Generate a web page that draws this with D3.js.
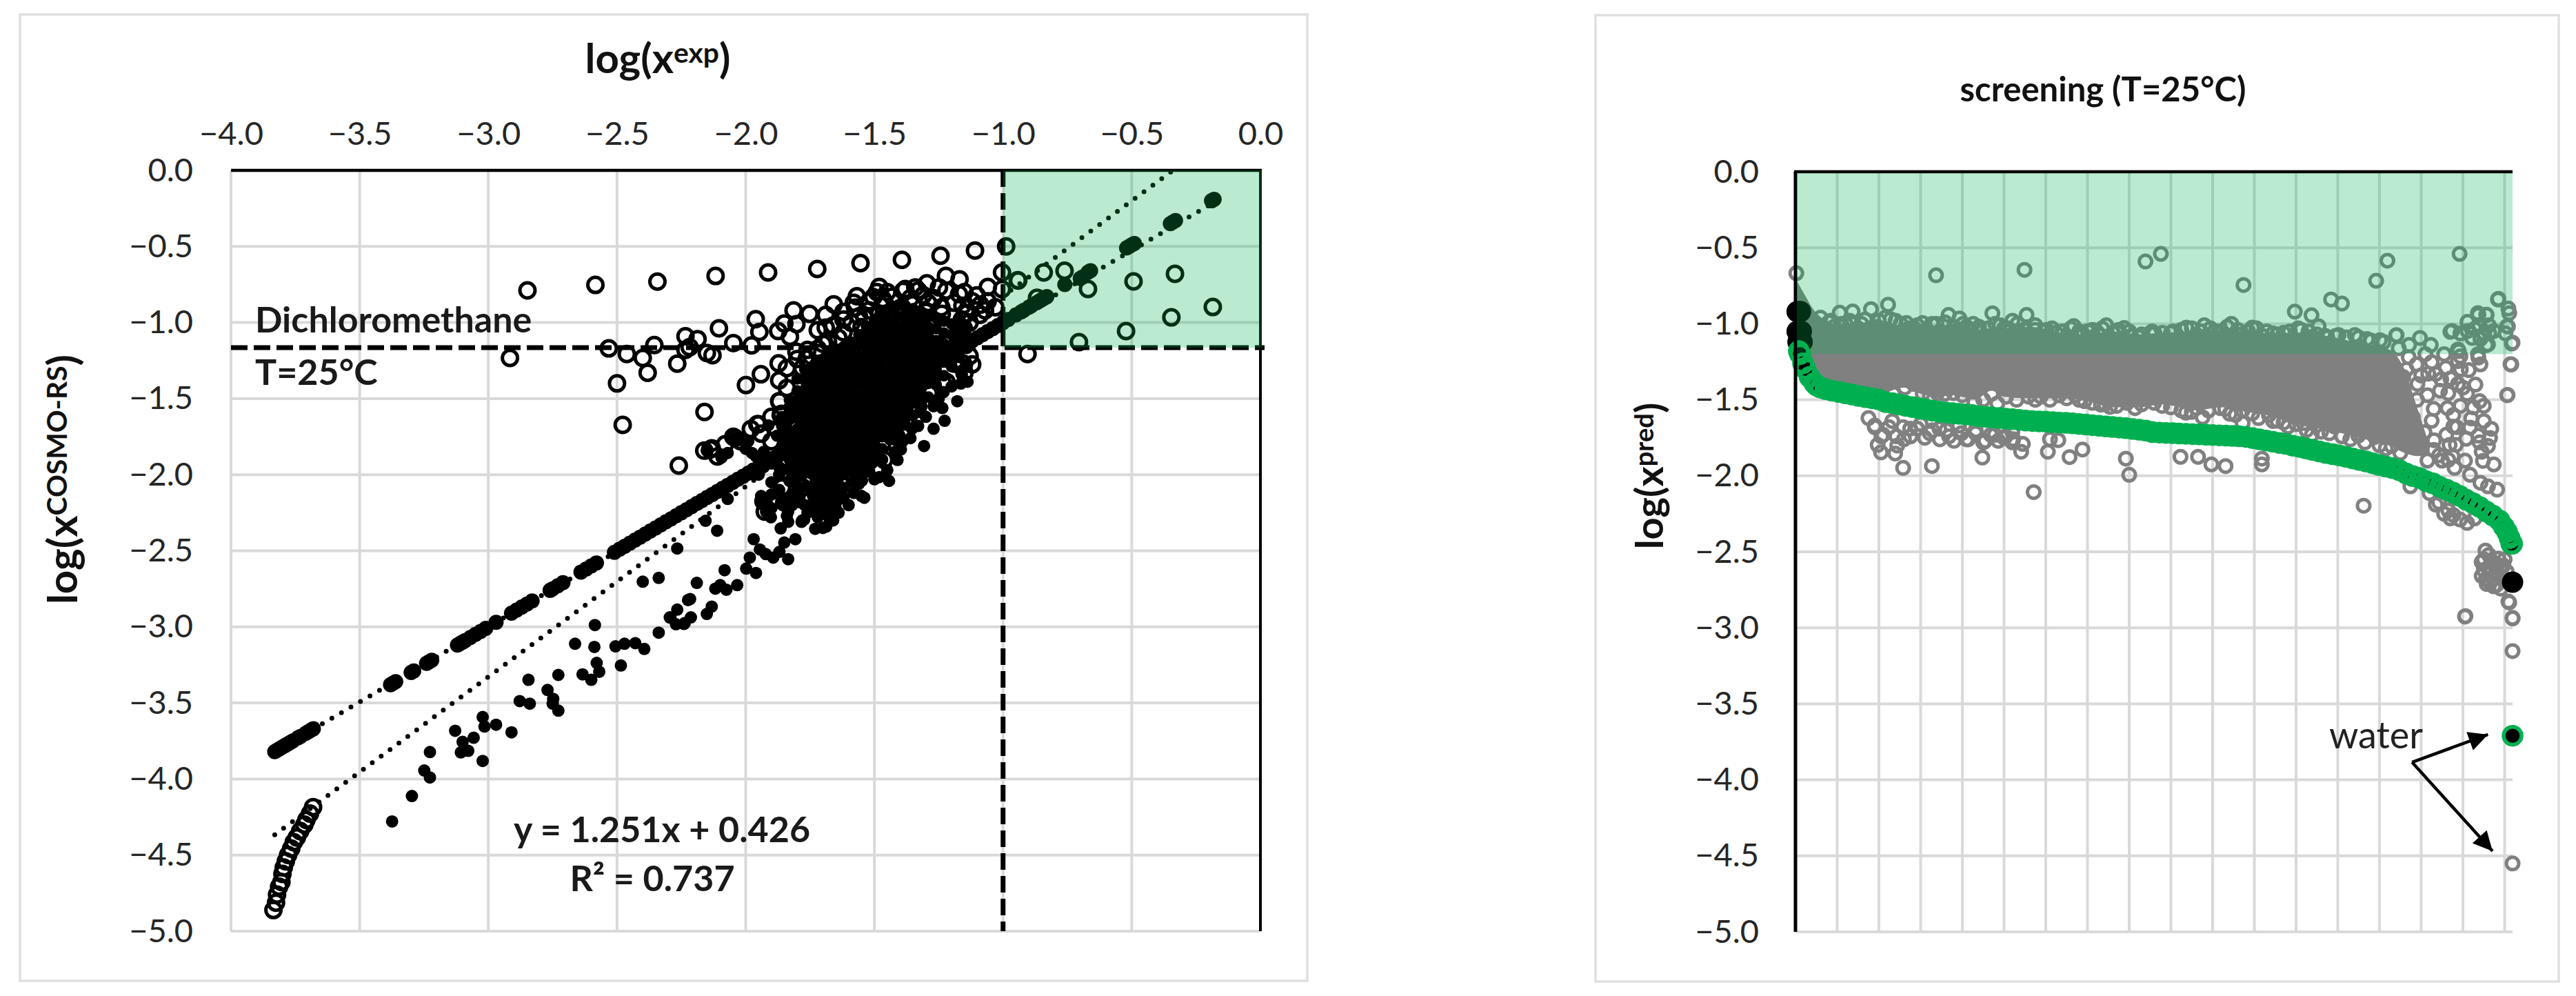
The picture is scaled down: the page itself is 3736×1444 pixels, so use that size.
<!DOCTYPE html>
<html><head><meta charset="utf-8">
<script src="https://cdn.jsdelivr.net/npm/d3@7"></script>
<style>html,body{margin:0;background:#fff}svg{display:block}text{font-family:Lato,"Open Sans",sans-serif}</style>
</head><body><svg id="c" width="3736" height="1444"></svg>
<script>
// ---------- left chart data ----------
const xTicks=[-4,-3.5,-3,-2.5,-2,-1.5,-1,-0.5,0];
const yTicks=[0,-0.5,-1,-1.5,-2,-2.5,-3,-3.5,-4,-4.5,-5];
const thresholdLeftX=-1, thresholdLeftY=-1.165;
const identityEnds=[[-3.83,-3.82],[-0.17,-0.2]];
const trendEnds=[[-3.83,-4.367],[-0.34,0]];
const lineX=[-3.83,-3.82,-3.81,-3.8,-3.79,-3.78,-3.77,-3.76,-3.74,-3.73,-3.71,-3.7,-3.69,-3.68,-3.38,-3.37,-3.36,-3.3,-3.29,-3.24,-3.23,-3.22,-3.12,-3.11,-3.1,-3.09,-3.07,-3.05,-3.03,-3.01,-2.97,-2.91,-2.89,-2.87,-2.85,-2.83,-2.76,-2.75,-2.73,-2.71,-2.64,-2.62,-2.6,-2.58,-2.51,-2.49,-2.47,-2.45,-2.43,-2.41,-2.39,-2.37,-2.35,-2.33,-2.31,-2.29,-2.27,-2.25,-2.23,-2.21,-2.19,-2.17,-2.15,-2.13,-2.11,-2.09,-2.07,-2.05,-2.03,-2.01,-1.99,-1.97,-1.95,-1.93,-1.91,-1.89,-1.87,-1.85,-1.83,-1.8,-1.77,-1.74,-1.7,-1.66,-1.6,-1.54,-1.48,-1.42,-1.36,-1.3,-1.26,-1.24,-1.22,-1.2,-1.18,-1.16,-1.14,-1.12,-1.1,-1.08,-1.06,-1.04,-1.02,-1,-0.98,-0.95,-0.93,-0.92,-0.9,-0.89,-0.87,-0.86,-0.85,-0.84,-0.83,-0.76,-0.7,-0.69,-0.67,-0.66,-0.52,-0.51,-0.5,-0.49,-0.35,-0.34,-0.33,-0.19,-0.18];
const lineY=[-3.82,-3.81,-3.8,-3.79,-3.78,-3.77,-3.76,-3.75,-3.73,-3.72,-3.7,-3.69,-3.68,-3.67,-3.38,-3.37,-3.36,-3.3,-3.29,-3.24,-3.23,-3.22,-3.12,-3.11,-3.1,-3.09,-3.07,-3.05,-3.03,-3.01,-2.97,-2.91,-2.89,-2.87,-2.85,-2.83,-2.76,-2.75,-2.73,-2.71,-2.64,-2.62,-2.6,-2.58,-2.51,-2.49,-2.47,-2.45,-2.43,-2.41,-2.39,-2.37,-2.35,-2.33,-2.31,-2.29,-2.27,-2.25,-2.23,-2.21,-2.19,-2.17,-2.15,-2.13,-2.11,-2.09,-2.07,-2.05,-2.03,-2.01,-1.99,-1.97,-1.95,-1.93,-1.91,-1.89,-1.87,-1.85,-1.83,-1.8,-1.77,-1.74,-1.7,-1.66,-1.6,-1.54,-1.48,-1.42,-1.36,-1.3,-1.26,-1.24,-1.22,-1.2,-1.18,-1.16,-1.14,-1.12,-1.1,-1.08,-1.06,-1.04,-1.02,-1,-0.98,-0.95,-0.93,-0.92,-0.9,-0.89,-0.87,-0.86,-0.85,-0.84,-0.83,-0.75,-0.71,-0.7,-0.67,-0.66,-0.51,-0.5,-0.49,-0.48,-0.35,-0.34,-0.33,-0.2,-0.19];
const belowX=[-3.374,-3.297,-3.249,-3.227,-3.227,-3.129,-3.1,-3.107,-3.078,-3.057,-3.022,-3.022,-3.015,-2.97,-2.91,-2.878,-2.839,-2.844,-2.77,-2.748,-2.75,-2.728,-2.728,-2.634,-2.6,-2.569,-2.579,-2.588,-2.663,-2.586,-2.506,-2.471,-2.429,-2.394,-2.485,-2.338,-2.292,-2.266,-2.24,-2.4,-2.338,-2.266,-2.224,-2.295,-2.271,-2.237,-2.213,-2.216,-2.151,-2.132,-2.19,-2.082,-2.118,-2.099,-2.075,-2.033,-1.998,-1.96,-1.984,-1.969,-1.945,-1.922,-1.893,-1.869,-1.835,-1.85,-1.807,-2.156,-2.111,-2.07,-1.864,-1.835,-1.783,-1.773,-1.73,-1.687,-1.481,-1.443,-1.548,-1.539,-1.931,-1.921,-1.902,-1.85,-1.835,-1.788,-1.73,-1.663,-1.639,-2.041,-2.151,-2.094,-2.07,-1.99,-1.976,-1.912,-1.878,-1.178,-1.231,-1.138,-1.164,-1.236,-1.227,-1.27,-1.322,-1.354,-1.414,-1.307,-1.397,-1.51,-1.41,
-1.94,-1.9,-1.9,-1.9,-1.87,-1.87,-1.86,-1.83,-1.83,-1.82,-1.82,-1.8,-1.79,-1.77,-1.76,-1.78,-1.74,-1.72,-1.7,-1.68,-1.66,-1.72,-1.65,-1.62,-1.6,-1.63,-1.58,-1.56,-1.55,-1.52,-1.5,-1.47,-1.45,-1.42,-1.39,-1.36,-1.33,-1.3,-1.27,-1.25,-1.2,-1.16,-1.14,-1.7,-1.75,-1.84,-1.69,-1.96,-1.93,-1.9,-1.93,-1.95,-2.0,-1.87];
const belowY=[-4.279,-4.112,-3.944,-3.99,-3.823,-3.683,-3.756,-3.825,-3.815,-3.729,-3.881,-3.593,-3.655,-3.643,-3.693,-3.488,-3.505,-3.348,-3.415,-3.473,-3.505,-3.551,-3.316,-3.312,-3.348,-3.295,-3.237,-3.132,-3.111,-2.988,-3.128,-3.111,-3.107,-3.145,-3.254,-3.038,-2.94,-2.887,-2.981,-2.703,-2.678,-2.485,-2.824,-2.938,-2.983,-2.975,-2.938,-2.817,-2.915,-2.867,-2.711,-2.628,-2.749,-2.726,-2.756,-2.726,-2.617,-2.646,-2.545,-2.424,-2.492,-2.522,-2.545,-2.507,-2.555,-2.446,-2.424,-2.303,-2.368,-2.159,-2.353,-2.31,-2.31,-2.295,-2.356,-2.341,-2.016,-2.041,-2.038,-2.152,-2.182,-2.243,-2.28,-2.182,-2.243,-2.182,-2.19,-2.235,-2.25,-1.759,-1.842,-1.887,-1.857,-1.78,-1.857,-1.676,-1.744,-1.517,-1.457,-1.389,-1.401,-1.562,-1.646,-1.698,-1.588,-1.698,-1.751,-1.812,-1.834,-1.925,-1.903,
-2.14,-2.05,-2.13,-2.22,-2.0,-2.1,-2.18,-1.97,-2.04,-2.13,-2.2,-2.08,-2.14,-2.2,-2.25,-2.3,-2.22,-2.28,-2.22,-2.27,-2.3,-2.12,-2.18,-2.15,-2.2,-2.08,-2.12,-2.06,-2.14,-1.98,-2.03,-1.9,-1.97,-1.85,-1.78,-1.76,-1.68,-1.62,-1.55,-1.5,-1.42,-1.34,-1.28,-2.35,-2.08,-2.27,-2.05,-1.88,-1.85,-1.92,-1.95,-2.0,-1.83,-1.95];
const cloudX=[-1.86,-1.83,-1.8,-1.77,-1.74,-1.71,-1.68,-1.65,-1.62,-1.59,-1.56,-1.53,-1.5,-1.47,-1.44,-1.41,-1.38,-1.35,-1.32,-1.29,-1.26,-1.23,-1.2,-1.17,-1.14];
const cloudY=[
[-1.62,-1.68,-1.75,-1.81,-1.87],
[-1.51,-1.58,-1.64,-1.71,-1.77,-1.84,-1.9,-1.95],
[-1.37,-1.45,-1.52,-1.57,-1.63,-1.7,-1.76,-1.83,-1.89,-1.96,-2.02],
[-1.31,-1.38,-1.44,-1.51,-1.6,-1.66,-1.73,-1.79,-1.86,-1.92,-1.99,-2.08],
[-1.29,-1.36,-1.42,-1.48,-1.55,-1.61,-1.68,-1.74,-1.81,-1.87,-1.94,-2.0,-2.07,-2.14],
[-1.25,-1.32,-1.39,-1.45,-1.52,-1.58,-1.64,-1.71,-1.77,-1.84,-1.9,-1.97,-2.03,-2.1,-2.17],
[-1.21,-1.28,-1.35,-1.42,-1.48,-1.55,-1.61,-1.68,-1.74,-1.8,-1.87,-1.93,-2.0,-2.06,-2.12,-2.18],
[-1.19,-1.25,-1.32,-1.38,-1.45,-1.51,-1.58,-1.64,-1.71,-1.77,-1.84,-1.9,-1.96,-2.03,-2.09,-2.14],
[-1.16,-1.23,-1.29,-1.36,-1.42,-1.49,-1.55,-1.61,-1.68,-1.74,-1.81,-1.87,-1.94,-2.0,-2.09],
[-1.13,-1.2,-1.26,-1.33,-1.39,-1.46,-1.52,-1.59,-1.65,-1.71,-1.78,-1.84,-1.91,-1.97,-2.05],
[-1.08,-1.15,-1.22,-1.28,-1.35,-1.41,-1.48,-1.54,-1.61,-1.67,-1.74,-1.8,-1.87,-1.93,-1.99],
[-1.03,-1.1,-1.17,-1.24,-1.31,-1.37,-1.44,-1.5,-1.57,-1.63,-1.7,-1.76,-1.83,-1.89,-1.95],
[-0.99,-1.06,-1.13,-1.2,-1.27,-1.33,-1.4,-1.46,-1.53,-1.59,-1.66,-1.72,-1.79,-1.85],
[-0.95,-1.02,-1.09,-1.16,-1.23,-1.3,-1.36,-1.42,-1.49,-1.55,-1.62,-1.68,-1.75,-1.83],
[-0.91,-0.98,-1.05,-1.12,-1.18,-1.25,-1.32,-1.38,-1.45,-1.51,-1.58,-1.64,-1.71,-1.77],
[-0.89,-0.96,-1.03,-1.09,-1.16,-1.22,-1.28,-1.35,-1.41,-1.48,-1.54,-1.6,-1.66,-1.71],
[-0.89,-0.95,-1.01,-1.07,-1.13,-1.19,-1.25,-1.31,-1.38,-1.44,-1.5,-1.57,-1.63,-1.67],
[-0.91,-0.98,-1.04,-1.1,-1.16,-1.22,-1.28,-1.34,-1.41,-1.47,-1.53,-1.61],
[-0.93,-1.0,-1.07,-1.13,-1.19,-1.25,-1.31,-1.37,-1.44,-1.5,-1.55],
[-0.96,-1.03,-1.09,-1.15,-1.22,-1.28,-1.34,-1.4,-1.49],
[-0.97,-1.04,-1.12,-1.18,-1.24,-1.3,-1.36,-1.41],
[-0.99,-1.07,-1.14,-1.2,-1.26,-1.35],
[-1.01,-1.08,-1.15,-1.22,-1.29],
[-0.98,-1.05,-1.11,-1.17,-1.23],
[-1.03,-1.09,-1.15,-1.17]];
const ringX=[-2.848,-2.584,-2.343,-2.916,-2.532,-2.462,-2.4,-2.355,-2.381,-2.5,-2.478,-2.266,-2.234,-2.234,-2.26,-2.117,-1.913,-1.722,-1.554,-1.393,-1.243,-1.109,-0.988,-2.218,-2.187,-2.151,-2.129,-2.104,-2.048,-1.977,-1.961,-1.947,-1.874,-1.85,-1.814,-1.803,-1.828,-1.752,-1.689,-1.658,-1.689,-1.568,-1.575,-1.589,-1.539,-1.504,-1.481,-1.468,-1.388,-1.341,-1.296,-1.222,-1.169,-1.249,-1.171,-1.158,-1.291,-1.238,-1.325,-1.059,-1.088,-1.102,-1.004,-1.004,-0.941,-1.803,-1.872,-1.941,-1.999,-2.16,-1.87,-1.12,-0.905,-1.62,-1.68,-1.72,-1.763,-1.481,-1.4,-1.722,-1.236,-1.156,-1.289,-2.048,-1.955,-2.138,-1.861,-0.943,-0.842,-0.761,-0.67,-0.493,-0.332,-0.185,-0.346,-0.522,-0.705,-0.868,-1.859,-1.931,-1.926,-1.85,-1.778,-1.71,-1.615,-1.644,-1.663,-1.73,-1.797,-1.572,-1.864,-2.161,-2.132,-2.041,-1.95,-1.788,-1.788,-1.869,-1.414,-1.52,-1.462,
-1.72,-1.66,-1.62,-1.56,-1.52,-1.46,-1.43,-1.36,-1.31,-1.27,-1.22,-1.19,-1.14,-1.16,-1.24,-1.3,-1.42,-1.35,-1.55,-1.64,-1.7,-1.76,-1.8,-1.84,-1.87,-1.84,-1.78,-1.72,-1.07,-1.13,-1.06,-1.12,-1.09,-1.03,-1.15,-1.33,-1.38,-1.45,-1.49,-1.52,-1.58,-1.62,
-1.19,-1.13,-1.15,-1.22,-1.28,-1.33,-1.38,-1.43,-1.47,-1.5,-1.55,-1.6,-1.88,-1.9,-1.84,-1.9,-1.94,-1.98,-2.02,-2.08,-2.11];
const ringY=[-0.789,-0.753,-0.731,-1.233,-1.17,-1.207,-1.233,-1.148,-1.33,-1.4,-1.673,-1.27,-1.09,-1.18,-1.94,-0.694,-0.671,-0.648,-0.61,-0.588,-0.561,-0.527,-0.5,-1.162,-1.109,-1.2,-1.215,-1.038,-1.135,-1.15,-0.978,-1.062,-1.056,-1.006,-0.92,-1.011,-1.094,-0.943,-0.95,-0.88,-1.034,-0.827,-0.902,-1.003,-0.966,-0.833,-0.766,-0.845,-0.792,-0.769,-0.742,-0.694,-0.716,-0.769,-0.814,-0.89,-0.872,-0.943,-0.95,-0.766,-0.883,-0.822,-0.671,-0.781,-0.724,-1.192,-1.268,-1.34,-1.411,-1.588,-1.517,-1.275,-1.207,-1.064,-1.124,-1.173,-1.238,-0.943,-0.905,-1.29,-1.389,-1.268,-1.464,-1.751,-1.668,-1.834,-1.6,-0.722,-0.671,-0.66,-0.78,-0.73,-0.68,-0.898,-0.966,-1.056,-1.129,-0.838,-2.084,-2.175,-2.243,-2.182,-2.084,-1.993,-2.023,-2.144,-2.22,-2.205,-1.963,-1.925,-1.608,-1.842,-1.827,-1.759,-1.668,-1.525,-1.6,-1.517,-1.751,-1.842,-1.903,
-1.05,-1.02,-0.98,-0.96,-0.92,-0.87,-0.83,-0.84,-0.82,-0.84,-0.79,-0.87,-0.94,-0.98,-0.9,-0.93,-0.92,-0.88,-1.03,-1.1,-1.14,-1.18,-1.24,-1.3,-1.38,-1.43,-1.3,-1.2,-0.92,-1.0,-0.86,-0.86,-0.95,-0.9,-0.8,-0.79,-0.78,-0.8,-0.8,-0.86,-0.87,-0.93,
-1.27,-1.22,-1.33,-1.39,-1.47,-1.55,-1.65,-1.72,-1.8,-1.86,-1.93,-2.05,-1.7,-1.62,-1.85,-1.78,-1.73,-1.7,-1.78,-1.8,-1.88];
const tailX=[-3.835,-3.825,-3.821,-3.813,-3.804,-3.8,-3.795,-3.787,-3.778,-3.766,-3.756,-3.744,-3.731,-3.715,-3.707,-3.693,-3.681];
const tailY=[-4.861,-4.813,-4.76,-4.708,-4.677,-4.624,-4.582,-4.541,-4.499,-4.457,-4.415,-4.384,-4.342,-4.3,-4.269,-4.227,-4.185];
const equationLines=["y = 1.251x + 0.426","R² = 0.737"];

// ---------- right chart data ----------
const idxTicks=[100,200,300,400,500,600,700,800,900,1000,1100,1200,1300,1400,1500,1600,1700];
const thresholdRightY=-1.2;
const coreIdx=[4,20,50,100,200,260,300,340,380,430,470,500,560,640,700,760,820,880,960,1020,1080,1130,1200,1309,1366,1423,1460,1490,1520];
const coreTop=[-0.72,-0.8,-0.93,-1.0,-0.99,-1.03,-1.03,-1.02,-1.0,-1.04,-1.03,-1.03,-1.02,-1.06,-1.07,-1.05,-1.07,-1.06,-1.05,-1.04,-1.05,-1.06,-1.06,-1.1,-1.14,-1.17,-1.3,-1.55,-1.8];
const coreBot=[-1.2,-1.3,-1.4,-1.45,-1.46,-1.42,-1.46,-1.48,-1.47,-1.5,-1.44,-1.48,-1.49,-1.49,-1.51,-1.55,-1.55,-1.53,-1.57,-1.55,-1.58,-1.6,-1.66,-1.72,-1.76,-1.8,-1.85,-1.87,-1.86];
const grayX=[2,337,549,839,876,1074,1419,1392,1592,1284,1310,1197,1237,1254,1684,1709,1711,1706,1717,1714,1706,1570,1590,1636,1656,1663,1656,1636,
106,137,181,167,222,266,305,327,367,393,426,472,479,520,554,602,667,701,745,788,822,850,861,937,980,1045,1095,1145,1212,1240,1262,1302,1341,1401,1441,1574,1637,1657,1611,1651,1594,1622,1660,1588,1637,1594,1674,1628,1611,1640,1662,1642,1685,1708,1702,1719,
258,327,197,205,244,239,448,541,605,657,688,792,800,571,630,610,522,923,965,997,1031,1118,1118,1474,1362,1606,
1559,1588,1614,1642,1588,1716,1707,1565,1563,1577,1577,1594,1620,1640,1617,1637,1668,1665,1660,1645,1648,1674,1608,1568,1583,1580,1617,1642,1660,1682,1525,1508,1480,1457,1491,1489,1523,1497,1471,1440,1525,1517,1548,1446,
1565,1593,1628,1543,1520,1577,1654,1645,1645,1657,1674,1691,1668,1685,1702,1668,1685,1697,1660,1677,1711,1719,1709,1719,1605,1719,1719,
283,340,379,429,484,558,588,632,671,693,732,754,814,803,879,936,976,961,1018,1041,1072,1072,1135,1155,1181,1218,1238,1249,1292,1349,1389,1429,1531,1565,1543,
60,80,92,120,150,196,215,240,285,345,410,440,500,530,575,625,690,725,770,805,900,1005,1070,1120,1170,1270,1320,1370,
175,190,210,232,260,275,300,322,345,368,392,410,432,455,478,500,520,545,
85,110,130,158,178,200,228,252,272,292,315,338,358,380,402,418,440,462,490,510,532,548,575,595,615,640,660,680,712,735,760,775,800,830,855,880,905,925,950,972,995,1015,1035,1060,1085,1105,1130,1155,1185,1205,1230,1250,1275,1295,1320,1350,1380,1410,
120,180,235,262,305,322,358,400,450,470,505,530,575,610,650,680,712,742,770,795,830,860,900,925,950,990,1030,1055,1095,1110,1145,1170,1200,1225,1260,1280,1310,1330,1365,1400,1415,1450,1465,1490,1500,1515,1530,1545,1560,1585,1600,1625,1650,1470,1485,1510,1535,1555,1570,1595,1610,1630,1650,1640,1530,1550,1575,1605,1495,1515,
190,206,224,242,258,276,292,310,328,346,362,380,398,414,432,450,468,486,504,520,
1650,1655,1662,1672,1680,1690,1695,1680,1700,1665,1650,1705,1535,1555,1570,1610];
const grayY=[-0.667,-0.681,-0.645,-0.59,-0.54,-0.745,-0.585,-0.717,-0.54,-0.84,-0.867,-0.92,-0.944,-1.016,-0.84,-0.9,-0.93,-1.016,-1.13,-1.266,-1.47,-1.053,-1.18,-0.93,-0.94,-1.06,-1.14,-1.2,
-0.927,-0.919,-0.904,-0.972,-0.874,-0.995,-0.995,-1.0,-0.942,-0.965,-1.0,-0.931,-1.0,-0.98,-0.942,-1.04,-1.015,-1.048,-1.01,-1.028,-1.086,-1.063,-1.063,-1.025,-1.01,-1.0,-1.025,-1.063,-1.04,-1.086,-1.13,-1.074,-1.074,-1.108,-1.075,-1.048,-0.942,-0.942,-0.987,-1.063,-1.063,-1.093,-1.136,-1.169,-1.222,-1.214,-1.048,-1.033,-1.048,-1.01,-1.01,-1.1,-0.836,-1.018,-1.063,-1.124,
-1.948,-1.936,-1.797,-1.846,-1.801,-1.853,-1.88,-1.842,-1.842,-1.877,-1.827,-1.887,-1.993,-2.107,-1.766,-1.759,-1.759,-1.875,-1.875,-1.925,-1.936,-1.925,-1.887,-2.069,-2.197,-2.923,
-1.29,-1.396,-1.305,-1.267,-1.245,-1.267,-1.468,-1.456,-1.555,-1.6,-1.676,-1.54,-1.623,-1.509,-1.683,-1.736,-1.691,-1.751,-1.804,-1.842,-1.902,-1.925,-1.756,-1.797,-1.797,-1.948,-1.993,-2.046,-2.069,-2.091,-1.638,-1.713,-1.615,-1.35,-1.396,-1.267,-1.139,-1.093,-1.139,-1.075,-1.252,-1.328,-1.366,-1.161,
-2.228,-2.288,-2.28,-2.175,-2.114,-2.258,-2.492,-2.568,-2.659,-2.712,-2.727,-2.742,-2.636,-2.651,-2.681,-2.56,-2.545,-2.59,-2.606,-2.59,-2.833,-2.938,-2.827,-2.935,-2.926,-3.153,-4.55,
-1.396,-1.456,-1.456,-1.517,-1.524,-1.479,-1.479,-1.471,-1.471,-1.509,-1.532,-1.547,-1.555,-1.486,-1.54,-1.585,-1.615,-1.555,-1.555,-1.592,-1.57,-1.653,-1.6,-1.638,-1.676,-1.653,-1.729,-1.668,-1.676,-1.736,-1.744,-1.804,-1.766,-1.895,-1.865,
-0.96,-0.99,-1.02,-1.0,-1.03,-1.02,-0.96,-0.98,-1.03,-1.05,-1.02,-1.04,-1.03,-1.05,-1.04,-1.06,-1.07,-1.06,-1.05,-1.08,-1.06,-1.05,-1.07,-1.08,-1.06,-1.08,-1.09,-1.1,
-1.62,-1.67,-1.73,-1.64,-1.76,-1.69,-1.66,-1.72,-1.69,-1.74,-1.67,-1.76,-1.7,-1.77,-1.73,-1.75,-1.71,-1.79,
-0.98,-1.0,-0.98,-1.0,-1.03,-0.98,-0.97,-1.0,-1.03,-1.01,-1.04,-1.0,-0.99,-1.02,-1.0,-1.04,-1.02,-1.03,-1.01,-1.03,-1.0,-1.04,-1.01,-1.05,-1.03,-1.05,-1.03,-1.05,-1.04,-1.03,-1.06,-1.04,-1.05,-1.07,-1.05,-1.06,-1.05,-1.04,-1.03,-1.05,-1.03,-1.05,-1.02,-1.04,-1.05,-1.03,-1.05,-1.07,-1.05,-1.03,-1.05,-1.07,-1.09,-1.08,-1.09,-1.09,-1.11,-1.12,
-1.44,-1.46,-1.46,-1.42,-1.46,-1.48,-1.46,-1.47,-1.5,-1.46,-1.48,-1.5,-1.5,-1.5,-1.49,-1.5,-1.52,-1.53,-1.54,-1.52,-1.53,-1.52,-1.55,-1.57,-1.58,-1.57,-1.56,-1.6,-1.59,-1.62,-1.64,-1.65,-1.66,-1.7,-1.71,-1.72,-1.74,-1.76,-1.78,-1.8,-1.82,-1.85,-1.3,-1.5,-1.34,-1.47,-1.56,-1.44,-1.73,-1.68,-1.42,-1.55,-1.64,-1.22,-1.72,-1.2,-1.33,-1.2,-1.36,-1.3,-1.46,-1.4,-1.54,-1.78,-1.83,-1.9,-1.87,-1.9,-1.8,-1.9,
-1.68,-1.74,-1.68,-1.74,-1.68,-1.74,-1.69,-1.75,-1.7,-1.76,-1.7,-1.77,-1.72,-1.76,-1.72,-1.78,-1.73,-1.77,-1.74,-1.78,
-2.62,-2.68,-2.52,-2.68,-2.6,-2.6,-2.68,-2.72,-2.55,-2.7,-2.55,-2.63,-2.19,-2.25,-2.28,-2.31];
const greenIdx=[8,11,18,24,34,45,51,60,72,88,104,120,136,152,168,184,200,216,232,248,264,280,296,312,328,344,360,376,392,408,424,440,456,472,488,504,520,536,552,568,584,600,616,632,648,664,680,696,712,728,744,760,776,792,808,824,840,856,872,888,904,920,936,952,968,984,1000,1016,1032,1048,1064,1080,1096,1112,1128,1144,1160,1176,1192,1208,1224,1240,1256,1272,1288,1304,1320,1336,1352,1368,1384,1400,1416,1432,1448,1464,1480,1496,1512,1528,1544,1560,1576,1592,1608,1624,1640,1656,1672,1688,1698,1706,1712,1716,1718];
const greenY=[-1.18,-1.2,-1.26,-1.297,-1.35,-1.39,-1.407,-1.42,-1.43,-1.44,-1.449,-1.458,-1.466,-1.475,-1.483,-1.49,-1.498,-1.515,-1.522,-1.531,-1.54,-1.548,-1.556,-1.563,-1.572,-1.578,-1.583,-1.588,-1.592,-1.596,-1.601,-1.609,-1.612,-1.616,-1.62,-1.624,-1.628,-1.632,-1.637,-1.64,-1.642,-1.644,-1.647,-1.65,-1.652,-1.655,-1.659,-1.663,-1.667,-1.671,-1.675,-1.679,-1.683,-1.687,-1.692,-1.697,-1.703,-1.713,-1.716,-1.718,-1.72,-1.722,-1.724,-1.726,-1.728,-1.73,-1.732,-1.734,-1.736,-1.738,-1.74,-1.744,-1.752,-1.76,-1.768,-1.776,-1.784,-1.79,-1.802,-1.81,-1.82,-1.83,-1.84,-1.85,-1.858,-1.866,-1.876,-1.886,-1.896,-1.906,-1.918,-1.93,-1.94,-1.95,-1.964,-1.985,-2.002,-2.014,-2.036,-2.05,-2.072,-2.09,-2.11,-2.132,-2.158,-2.18,-2.205,-2.235,-2.262,-2.295,-2.335,-2.37,-2.41,-2.447,-2.447];
const blackStartIdx=[4,12,4,14,6,16];
const blackStartY=[-0.92,-0.92,-1.05,-1.05,-1.12,-1.12];
const endPointIdx=[1719], endPointY=[-2.7];
const waterIdx=[1719], waterY=[-3.71];
const arrowFrom=[1478,-3.884];
const arrowTips=[[1660,-3.702],[1671,-4.469]];

// ---------- drawing ----------
const svg=d3.select("#c");
const defs=svg.append("defs");
defs.append("marker").attr("id","ah").attr("viewBox","0 0 10 10").attr("refX",10).attr("refY",5)
 .attr("markerUnits","userSpaceOnUse").attr("markerWidth",34).attr("markerHeight",28).attr("orient","auto")
 .append("path").attr("d","M0,0L10,5L0,10Z").attr("fill","#000");
const GRID="#d9d9d9", OVER="rgb(0,176,80)";
function panel(x0,y0,x1,y1){svg.append("rect").attr("x",x0).attr("y",y0).attr("width",x1-x0).attr("height",y1-y0).attr("fill","#fff").attr("stroke","#e0e0e0").attr("stroke-width",3.5);}
panel(29,21,1896,1422); panel(2314,22,3711,1423);
const fmt=d3.format(".1f");
function styleTicks(g){g.select(".domain").remove();g.selectAll("line").remove();g.selectAll("text").attr("font-size",47).attr("fill","#262626").attr("font-family","Lato");}
function titled(sel,base,sup){sel.attr("font-weight",700).attr("fill","#111");sel.append("tspan").text(base);sel.append("tspan").attr("dy","-0.36em").attr("font-size","0.68em").text(sup);sel.append("tspan").attr("dy","0.245em").text(")");}

// LEFT
const xL=d3.scaleLinear().domain([-4,0]).range([335,1828]);
const yL=d3.scaleLinear().domain([0,-5]).range([247,1350]);
const L=svg.append("g");
L.append("g").selectAll("line").data(xTicks.slice(0,-1)).join("line").attr("x1",d=>xL(d)).attr("x2",d=>xL(d)).attr("y1",yL(0)).attr("y2",yL(-5)).attr("stroke",GRID).attr("stroke-width",4);
L.append("g").selectAll("line").data(yTicks.slice(1)).join("line").attr("x1",xL(-4)).attr("x2",xL(0)).attr("y1",d=>yL(d)).attr("y2",d=>yL(d)).attr("stroke",GRID).attr("stroke-width",4);
const lg=d3.line().x(d=>xL(d[0])).y(d=>yL(d[1]));
[identityEnds,trendEnds].forEach(e=>L.append("path").attr("d",lg(e)).attr("fill","none").attr("stroke","#000").attr("stroke-width",7).attr("stroke-linecap","round").attr("stroke-dasharray","0 16"));
function dots(g,xs,ys,sx,sy,r,fill,stroke,sw){g.append("g").selectAll("circle").data(xs.map((x,i)=>[x,ys[i]])).join("circle").attr("cx",d=>sx(d[0])).attr("cy",d=>sy(d[1])).attr("r",r).attr("fill",fill).attr("stroke",stroke).attr("stroke-width",sw);}
dots(L,belowX,belowY,xL,yL,9,"#000","none",0);
L.append("g").selectAll("g").data(cloudX.map((x,i)=>cloudY[i].map(y=>[x,y]))).join("g").selectAll("circle").data(d=>d).join("circle").attr("cx",d=>xL(d[0])).attr("cy",d=>yL(d[1])).attr("r",8.5).attr("fill","#000");
dots(L,ringX,ringY,xL,yL,11,"none","#000",5);
dots(L,tailX,tailY,xL,yL,11,"none","#000",5);
dots(L,lineX,lineY,xL,yL,11,"#000","none",0);
[[xL(-4),yL(thresholdLeftY),xL(0)+6,yL(thresholdLeftY)],[xL(thresholdLeftX),yL(0),xL(thresholdLeftX),yL(-5)]].forEach(a=>L.append("line").attr("x1",a[0]).attr("y1",a[1]).attr("x2",a[2]).attr("y2",a[3]).attr("stroke","#000").attr("stroke-width",7).attr("stroke-dasharray","24 9"));
L.append("line").attr("x1",xL(-4)).attr("x2",xL(0)+2).attr("y1",yL(0)).attr("y2",yL(0)).attr("stroke","#000").attr("stroke-width",4.5);
L.append("line").attr("x1",xL(0)).attr("x2",xL(0)).attr("y1",yL(0)).attr("y2",yL(-5)).attr("stroke","#000").attr("stroke-width",4);
L.append("rect").attr("x",xL(thresholdLeftX)).attr("y",yL(0)).attr("width",xL(0)-xL(thresholdLeftX)+2).attr("height",yL(thresholdLeftY)-yL(0)).attr("fill",OVER).attr("fill-opacity",0.27);
L.append("g").attr("transform",`translate(0,${yL(0)-37})`).call(d3.axisTop(xL).tickValues(xTicks).tickFormat(fmt).tickSize(0).tickPadding(0)).call(styleTicks);
L.append("g").attr("transform",`translate(${xL(-4)-55},0)`).call(d3.axisLeft(yL).tickValues(yTicks).tickFormat(fmt).tickSize(0).tickPadding(0)).call(styleTicks);
titled(L.append("text").attr("x",954).attr("y",106).attr("text-anchor","middle").attr("font-size",60),"log(x","exp");
titled(L.append("text").attr("transform","translate(112,695) rotate(-90)").attr("text-anchor","middle").attr("font-size",60),"log(x","COSMO-RS");
L.append("text").attr("x",370).attr("y",482).attr("font-size",52).attr("font-weight",700).attr("fill","#1a1a1a").text("Dichloromethane");
L.append("text").attr("x",370).attr("y",558).attr("font-size",52).attr("font-weight",700).attr("fill","#1a1a1a").text("T=25°C");
L.append("text").attr("x",960).attr("y",1221).attr("text-anchor","middle").attr("font-size",52).attr("font-weight",700).attr("fill","#1a1a1a").text(equationLines[0]);
L.append("text").attr("x",946).attr("y",1292).attr("text-anchor","middle").attr("font-size",52).attr("font-weight",700).attr("fill","#1a1a1a").text(equationLines[1]);

// RIGHT
const xR=d3.scaleLinear().domain([0,1719]).range([2604,3644]);
const yR=d3.scaleLinear().domain([0,-5]).range([249,1351]);
const R=svg.append("g");
R.append("g").selectAll("line").data(idxTicks).join("line").attr("x1",d=>xR(d)).attr("x2",d=>xR(d)).attr("y1",yR(0)).attr("y2",yR(-5)).attr("stroke",GRID).attr("stroke-width",4);
R.append("g").selectAll("line").data(yTicks.slice(1)).join("line").attr("x1",xR(0)).attr("x2",xR(1719)).attr("y1",d=>yR(d)).attr("y2",d=>yR(d)).attr("stroke",GRID).attr("stroke-width",4);
R.append("path").attr("d",d3.area().x(d=>xR(d[0])).y0(d=>yR(d[1])).y1(d=>yR(d[2])).curve(d3.curveMonotoneX)(coreIdx.map((x,i)=>[x,coreTop[i],coreBot[i]]))).attr("fill","#808080");
dots(R,grayX,grayY,xR,yR,9,"none","#808080",5);
dots(R,blackStartIdx,blackStartY,xR,yR,15.5,"#000","none",0);
dots(R,greenIdx,greenY,xR,yR,15,"#000","none",0);
dots(R,endPointIdx,endPointY,xR,yR,15.5,"#000","none",0);
dots(R,waterIdx,waterY,xR,yR,15,"#000","none",0);
// the run of overlapping green rings is solid; only the first few and last stand apart
const greenThin=greenIdx.map((d,i)=>i<8||i>=greenIdx.length-2);
dots(R,greenIdx.filter((d,i)=>!greenThin[i]),greenY.filter((d,i)=>!greenThin[i]),xR,yR,11.5,"none","#00b050",8.5);
dots(R,greenIdx.filter((d,i)=>greenThin[i]),greenY.filter((d,i)=>greenThin[i]),xR,yR,13,"none","#00b050",5.5);
dots(R,waterIdx,waterY,xR,yR,13,"none","#00b050",5.5);
R.append("line").attr("x1",xR(0)).attr("x2",xR(0)).attr("y1",yR(0)).attr("y2",yR(-5)).attr("stroke","#000").attr("stroke-width",5);
R.append("line").attr("x1",xR(0)-2).attr("x2",xR(1719)).attr("y1",yR(0)).attr("y2",yR(0)).attr("stroke","#000").attr("stroke-width",4.5);
R.append("rect").attr("x",xR(0)+2).attr("y",yR(0)+2).attr("width",xR(1719)-xR(0)-2).attr("height",yR(thresholdRightY)-yR(0)-2).attr("fill",OVER).attr("fill-opacity",0.27);
R.append("g").attr("transform",`translate(${xR(0)-53},0)`).call(d3.axisLeft(yR).tickValues(yTicks).tickFormat(fmt).tickSize(0).tickPadding(0)).call(styleTicks);
R.append("text").attr("x",3050).attr("y",147).attr("text-anchor","middle").attr("font-size",49).attr("font-weight",700).attr("fill","#111").text("screening (T=25°C)");
titled(R.append("text").attr("transform","translate(2412,690) rotate(-90)").attr("text-anchor","middle").attr("font-size",56),"log(x","pred");
R.append("text").attr("x",3378).attr("y",1085).attr("font-size",54).attr("fill","#222").text("water");
arrowTips.forEach(t=>R.append("line").attr("x1",xR(arrowFrom[0])).attr("y1",yR(arrowFrom[1])).attr("x2",xR(t[0])).attr("y2",yR(t[1])).attr("stroke","#000").attr("stroke-width",4.5).attr("marker-end","url(#ah)"));
</script></body></html>
